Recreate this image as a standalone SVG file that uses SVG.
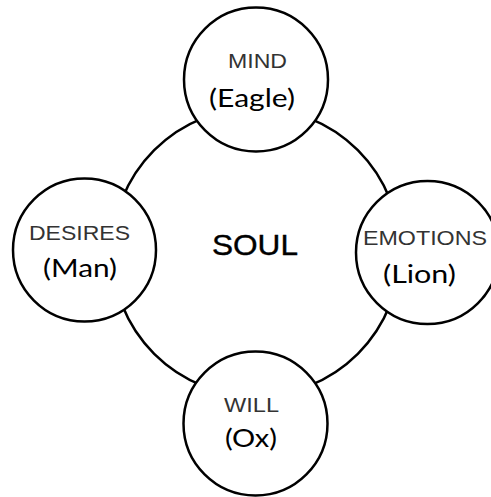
<svg xmlns="http://www.w3.org/2000/svg" width="491" height="497" viewBox="0 0 491 497">
<style>
.bg{fill:#fff}
.ring{fill:none;stroke:#000;stroke-width:2.5}
.node{fill:#fff;stroke:#000;stroke-width:2.5}
.cap{font-family:"Liberation Sans",Arial,sans-serif;font-size:21px;fill:#333;text-anchor:middle}
.ani{font-family:Lato,"Open Sans",sans-serif;font-size:25px;fill:#000;text-anchor:middle}
.soul{font-family:"Liberation Sans",Arial,sans-serif;font-size:30px;fill:#000;text-anchor:middle;stroke:#000;stroke-width:0.4}
</style>
<rect class="bg" width="491" height="497"/>
<g id="connectors">
<circle class="ring" cx="256" cy="252" r="144"/>
</g>
<g id="soul">
<text class="soul" x="255" y="255" textLength="86" lengthAdjust="spacingAndGlyphs">SOUL</text>
</g>
<g id="mind">
<circle class="node" cx="256" cy="79.5" r="72"/>
<text class="cap" x="257.5" y="68" textLength="59" lengthAdjust="spacingAndGlyphs">MIND</text>
<text class="ani" x="252" y="107" textLength="86" lengthAdjust="spacingAndGlyphs">(Eagle)</text>
</g>
<g id="desires">
<circle class="node" cx="84.5" cy="250" r="71.5"/>
<text class="cap" x="79.5" y="240" textLength="101" lengthAdjust="spacingAndGlyphs">DESIRES</text>
<text class="ani" x="80" y="277" textLength="74" lengthAdjust="spacingAndGlyphs">(Man)</text>
</g>
<g id="emotions">
<circle class="node" cx="427.5" cy="252.5" r="71.5"/>
<text class="cap" x="425" y="245" textLength="124" lengthAdjust="spacingAndGlyphs">EMOTIONS</text>
<text class="ani" x="419.5" y="283" textLength="73" lengthAdjust="spacingAndGlyphs">(Lion)</text>
</g>
<g id="will">
<circle class="node" cx="255.5" cy="423.5" r="72"/>
<text class="cap" x="251.5" y="412" textLength="55" lengthAdjust="spacingAndGlyphs">WILL</text>
<text class="ani" x="251" y="447" textLength="52" lengthAdjust="spacingAndGlyphs">(Ox)</text>
</g>
</svg>
